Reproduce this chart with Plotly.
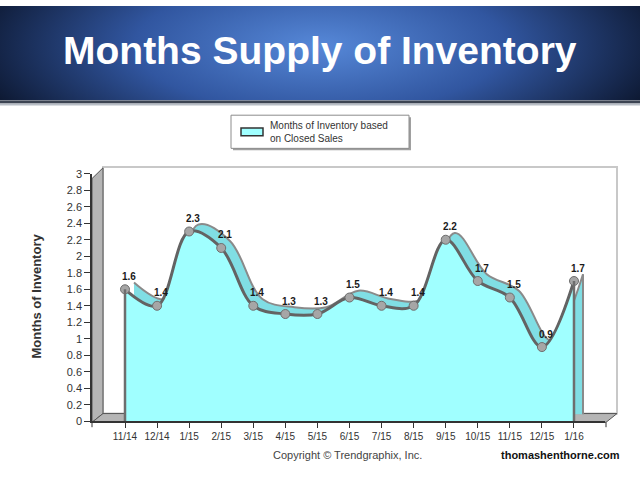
import base64
import plotly.graph_objects as go

months = ["11/14", "12/14", "1/15", "2/15", "3/15", "4/15", "5/15", "6/15",
          "7/15", "8/15", "9/15", "10/15", "11/15", "12/15", "1/16"]
inventory = [1.6, 1.4, 2.3, 2.1, 1.4, 1.3, 1.3, 1.5, 1.4, 1.4, 2.2, 1.7, 1.5, 0.9, 1.7]
series_name = "Months of Inventory based<br>on Closed Sales"
y_ticks = [round(i * 0.2, 1) for i in range(16)]

W, H = 640, 480
def fx(p): return p / W
def fy(p): return 1 - p / H

CYAN = "rgb(160,255,255)"
CYAN_DARK = "rgb(128,222,228)"
FONT = "Arial, Liberation Sans"

fig = go.Figure()

# back (depth) copy of the series -> ribbon
fig.add_trace(go.Scatter(x=months, y=inventory, xaxis="x", yaxis="y",
                         mode="lines", line=dict(shape="spline", smoothing=1, color="#8a8a8a", width=2),
                         fill="tozeroy", fillcolor=CYAN_DARK, hoverinfo="skip", showlegend=False))
fig.add_trace(go.Scatter(x=[months[-1], months[-1]], y=[0, inventory[-1]], xaxis="x", yaxis="y",
                         mode="lines", line=dict(color="#8a8a8a", width=2), hoverinfo="skip", showlegend=False))

# front series
fig.add_trace(go.Scatter(x=months, y=inventory, xaxis="x2", yaxis="y2",
                         mode="lines+markers", name=series_name,
                         line=dict(shape="spline", smoothing=1, color="#636363", width=3),
                         marker=dict(size=9, color="#a6a6a6", line=dict(color="#6e6e6e", width=1)),
                         fill="tozeroy", fillcolor=CYAN, showlegend=False))
for i in (0, len(months) - 1):
    fig.add_trace(go.Scatter(x=[months[i], months[i]], y=[0, inventory[i]], xaxis="x2", yaxis="y2",
                             mode="lines", line=dict(color="#6e6e6e", width=2.5),
                             hoverinfo="skip", showlegend=False))

# offsets
DX, DY = 9, 7
front_x = [fx(92), fx(605)]
front_y = [fy(426), fy(172)]
xr = [-1.029, 14.967]

common_x = dict(type="category", range=xr, fixedrange=True)
fig.update_layout(
    xaxis=dict(domain=[fx(92 + DX), fx(605 + DX)], anchor="y", visible=False, **common_x),
    yaxis=dict(domain=[fy(426 - DY), fy(172 - DY)], anchor="x", range=[0, 3], visible=False),
    xaxis2=dict(domain=front_x, anchor="y2", showline=True, linecolor="#333333", linewidth=1.5,
                ticks="outside", ticklen=5, tickcolor="#333333", showgrid=False, zeroline=False,
                tickfont=dict(family=FONT, size=10, color="#333333"), **common_x),
    yaxis2=dict(domain=front_y, anchor="x2", range=[0, 3], tickvals=y_ticks,
                ticktext=[("%g" % v) for v in y_ticks], showline=True, linecolor="#333333", linewidth=1.5,
                ticks="outside", ticklen=6, tickcolor="#333333", showgrid=False, zeroline=False,
                tickfont=dict(family=FONT, size=11, color="#333333")),
)

shapes = []
# back wall
shapes.append(dict(type="rect", xref="paper", yref="paper", x0=fx(103), x1=fx(617), y0=fy(418), y1=fy(165),
                   fillcolor="white", line=dict(color="#c8c8c8", width=2), layer="below"))
# left wall
shapes.append(dict(type="path", xref="paper", yref="paper",
                   path=f"M {fx(92)},{fy(427)} L {fx(92)},{fy(177)} L {fx(103)},{fy(166)} L {fx(103)},{fy(418)} Z",
                   fillcolor="#b5b5b5", line=dict(color="#555555", width=1), layer="below"))
# floor
shapes.append(dict(type="path", xref="paper", yref="paper",
                   path=f"M {fx(92)},{fy(427)} L {fx(103)},{fy(418)} L {fx(617)},{fy(418)} L {fx(606)},{fy(427)} Z",
                   fillcolor="#b5b5b5", line=dict(color="#555555", width=1), layer="below"))
for xp in (92, 606):
    shapes.append(dict(type="line", xref="paper", yref="paper", x0=fx(xp), x1=fx(xp), y0=fy(427), y1=fy(432),
                       line=dict(color="#333333", width=1)))
# header bottom edge
shapes.append(dict(type="rect", xref="paper", yref="paper", x0=0, x1=1, y0=fy(100), y1=fy(97),
                   fillcolor="#3c4452", line=dict(width=0), layer="below"))
shapes.append(dict(type="rect", xref="paper", yref="paper", x0=0, x1=1, y0=fy(102), y1=fy(100),
                   fillcolor="#b8bec6", line=dict(width=0), layer="below"))
# legend box
shapes.append(dict(type="rect", xref="paper", yref="paper", x0=fx(233), x1=fx(411), y0=fy(148), y1=fy(114),
                   fillcolor="#a0a0a0", line=dict(width=0)))
shapes.append(dict(type="rect", xref="paper", yref="paper", x0=fx(231), x1=fx(409), y0=fy(146), y1=fy(112),
                   fillcolor="white", line=dict(color="#8c8c8c", width=1)))
shapes.append(dict(type="rect", xref="paper", yref="paper", x0=fx(241), x1=fx(263), y0=fy(133), y1=fy(125),
                   fillcolor=CYAN, line=dict(color="#333333", width=1.5)))

def note(x, y, text, size, color, **kw):
    d = dict(xref="paper", yref="paper", x=fx(x), y=fy(y), text=text, showarrow=False,
             xanchor="center", yanchor="middle", font=dict(family=FONT, size=size, color=color))
    d.update(kw)
    return d

annotations = [
    note(320, 46, "<b>Months Supply of Inventory</b>", 39, "white"),
    note(268, 129, series_name, 10, "#333333", xanchor="left", align="left"),
    note(37, 298, "<b>Months of Inventory</b>", 13, "#333333", textangle=-90),
    note(347, 460, "Copyright © Trendgraphix, Inc.", 11, "#444444"),
    note(560, 460, "<b>thomashenthorne.com</b>", 11, "#111111"),
]
for m, v in zip(months, inventory):
    annotations.append(dict(xref="x2", yref="y2", x=m, y=v, text="<b>%.1f</b>" % v, showarrow=False,
                            xanchor="center", yanchor="middle", xshift=4, yshift=13,
                            font=dict(family=FONT, size=10, color="#1a1a1a")))

svg = ("<svg xmlns='http://www.w3.org/2000/svg' width='640' height='100'>"
       "<defs><radialGradient id='g' gradientUnits='userSpaceOnUse' cx='0' cy='0' r='1' "
       "gradientTransform='translate(320,42) scale(370,140)'>"
       "<stop offset='0' stop-color='#5688d8'/><stop offset='0.5' stop-color='#3156a0'/>"
       "<stop offset='1' stop-color='#0a1328'/></radialGradient></defs>"
       "<rect width='640' height='100' fill='url(#g)'/></svg>")
src = "data:image/svg+xml;base64," + base64.b64encode(svg.encode()).decode()

fig.update_layout(
    width=W, height=H, margin=dict(l=0, r=0, t=0, b=0),
    paper_bgcolor="white", plot_bgcolor="rgba(0,0,0,0)",
    shapes=shapes, annotations=annotations, showlegend=False,
    images=[dict(source=src, xref="paper", yref="paper", x=0, y=1, sizex=1, sizey=97 / H,
                 xanchor="left", yanchor="top", sizing="stretch", layer="below")],
)

fig.write_html("out.html", config={"displayModeBar": False})
